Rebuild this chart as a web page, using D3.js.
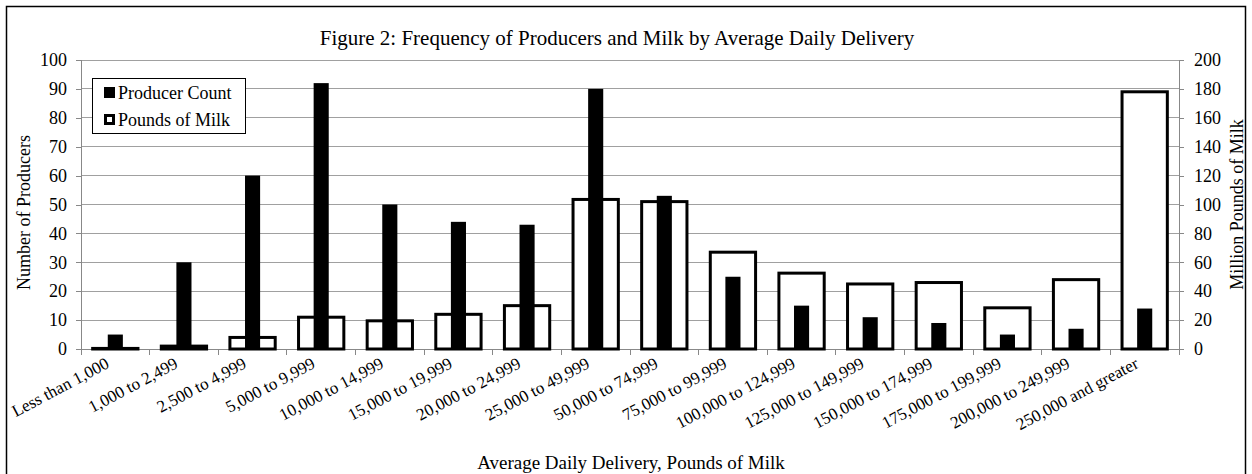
<!DOCTYPE html>
<html lang="en">

<head>
    <meta charset="UTF-8">
    <title>Frequency of Producers and Milk by Average Daily Delivery</title>
    <style>
        body {
            margin: 0;
            background: white;
        }

        text {
            font-family: "Liberation Serif", "Times New Roman", serif;
            fill: black;
        }

        .grid line {
            stroke: #a0a0a0;
            shape-rendering: crispEdges;
        }

        .y_axis path,
        .y_axis line,
        .x_axis path,
        .x_axis line {
            stroke: #888;
            shape-rendering: crispEdges;
        }

        .y_axis text {
            font-size: 18px;
        }
    </style>
</head>

<body>
    <script src="https://cdn.jsdelivr.net/npm/d3@7"></script>
    <script>
        const categories = [
            'Less than 1,000', '1,000 to 2,499', '2,500 to 4,999', '5,000 to 9,999',
            '10,000 to 14,999', '15,000 to 19,999', '20,000 to 24,999', '25,000 to 49,999',
            '50,000 to 74,999', '75,000 to 99,999', '100,000 to 124,999', '125,000 to 149,999',
            '150,000 to 174,999', '175,000 to 199,999', '200,000 to 249,999', '250,000 and greater'
        ];
        // left axis
        const producer_count = [5, 30, 60, 92, 50, 44, 43, 90, 53, 25, 15, 11, 9, 5, 7, 14];
        // right axis, million pounds
        const milk_pounds = [0.4, 2, 8, 22, 19.5, 24, 30, 103.5, 102, 67, 52.5, 45, 46, 28.5, 48, 178];

        const left_ticks = [0, 10, 20, 30, 40, 50, 60, 70, 80, 90, 100];
        const right_ticks = [0, 20, 40, 60, 80, 100, 120, 140, 160, 180, 200];

        const svg_w = 1252;
        const svg_h = 474;
        const plot_left = 81;
        const plot_right = 1179;
        const plot_top = 60;
        const plot_bottom = 349;

        const svg = d3.select('body')
            .append('svg')
            .attr('width', svg_w)
            .attr('height', svg_h);

        // outer frame
        svg.append('rect')
            .attr('x', 6.5)
            .attr('y', 6.5)
            .attr('width', 1239)
            .attr('height', 480)
            .attr('fill', 'white')
            .attr('stroke', 'black')
            .attr('stroke-width', 1.5);

        const x_scale = d3.scaleBand(categories, [plot_left, plot_right]);
        const y_left = d3.scaleLinear([0, 100], [plot_bottom, plot_top]);
        const y_right = d3.scaleLinear([0, 200], [plot_bottom, plot_top]);

        // gridlines
        svg.append('g')
            .attr('class', 'grid')
            .selectAll('line')
            .data(left_ticks)
            .enter()
            .append('line')
            .attr('x1', plot_left)
            .attr('x2', plot_right)
            .attr('y1', d => y_left(d))
            .attr('y2', d => y_left(d));

        const y_axis_left = d3.axisLeft(y_left).tickValues(left_ticks).tickSize(5).tickPadding(9);
        const y_axis_right = d3.axisRight(y_right).tickValues(right_ticks).tickSize(5).tickPadding(10);

        svg.append('g').call(y_axis_left)
            .attr('class', 'y_axis')
            .attr('font-family', null)
            .attr('transform', `translate(${plot_left}, 0)`);

        svg.append('g').call(y_axis_right)
            .attr('class', 'y_axis')
            .attr('font-family', null)
            .attr('transform', `translate(${plot_right}, 0)`);

        svg.selectAll('.y_axis path').attr('d', `M0,${plot_top}V${plot_bottom}`);

        // x axis: ticks on category boundaries
        const bounds = categories.map(c => x_scale(c)).concat([plot_right]);
        const x_axis = svg.append('g').attr('class', 'x_axis');
        x_axis.append('line')
            .attr('x1', plot_left - 5)
            .attr('x2', plot_right + 5)
            .attr('y1', plot_bottom)
            .attr('y2', plot_bottom);
        x_axis.selectAll('line.tick')
            .data(bounds)
            .enter()
            .append('line')
            .attr('class', 'tick')
            .attr('x1', d => d)
            .attr('x2', d => d)
            .attr('y1', plot_bottom)
            .attr('y2', plot_bottom + 6);

        x_axis.selectAll('text')
            .data(categories)
            .enter()
            .append('text')
            .attr('text-anchor', 'end')
            .attr('font-size', 17)
            .attr('transform', d => `translate(${x_scale(d) + x_scale.bandwidth() / 2 - 5}, ${plot_bottom + 18}) rotate(-28)`)
            .text(d => d);

        // milk bars (open)
        const milk_w = x_scale.bandwidth() * 0.66;
        svg.append('g')
            .selectAll('rect')
            .data(milk_pounds)
            .enter()
            .append('rect')
            .attr('x', (d, i) => x_scale(categories[i]) + (x_scale.bandwidth() - milk_w) / 2)
            .attr('y', d => y_right(d))
            .attr('width', milk_w)
            .attr('height', d => plot_bottom - y_right(d))
            .attr('fill', 'white')
            .attr('stroke', 'black')
            .attr('stroke-width', 3);

        // producer bars (solid)
        const prod_w = x_scale.bandwidth() * 0.22;
        svg.append('g')
            .selectAll('rect')
            .data(producer_count)
            .enter()
            .append('rect')
            .attr('x', (d, i) => x_scale(categories[i]) + (x_scale.bandwidth() - prod_w) / 2)
            .attr('y', d => y_left(d))
            .attr('width', prod_w)
            .attr('height', d => plot_bottom - y_left(d))
            .attr('fill', 'black');

        // titles
        svg.append('text')
            .attr('x', 617)
            .attr('y', 45)
            .attr('text-anchor', 'middle')
            .attr('font-size', 21)
            .text('Figure 2: Frequency of Producers and Milk by Average Daily Delivery');

        svg.append('text')
            .attr('x', 631)
            .attr('y', 469)
            .attr('text-anchor', 'middle')
            .attr('font-size', 19)
            .text('Average Daily Delivery, Pounds of Milk');

        svg.append('text')
            .attr('transform', `translate(30, ${(plot_top + plot_bottom) / 2 + 8}) rotate(-90)`)
            .attr('text-anchor', 'middle')
            .attr('font-size', 18)
            .text('Number of Producers');

        svg.append('text')
            .attr('transform', `translate(1243, ${(plot_top + plot_bottom) / 2}) rotate(-90)`)
            .attr('text-anchor', 'middle')
            .attr('font-size', 18)
            .text('Million Pounds of Milk');

        // legend
        const legend = svg.append('g').attr('transform', 'translate(92, 78)');
        legend.append('rect')
            .attr('x', 0.5)
            .attr('y', 0.5)
            .attr('width', 153)
            .attr('height', 55)
            .attr('fill', 'white')
            .attr('stroke', 'black')
            .attr('stroke-width', 1);

        legend.append('rect')
            .attr('x', 12)
            .attr('y', 9)
            .attr('width', 11)
            .attr('height', 11)
            .attr('fill', 'black');
        legend.append('rect')
            .attr('x', 13.5)
            .attr('y', 37.5)
            .attr('width', 8)
            .attr('height', 8)
            .attr('fill', 'white')
            .attr('stroke', 'black')
            .attr('stroke-width', 3);

        legend.append('text')
            .attr('x', 26)
            .attr('y', 21)
            .attr('font-size', 18)
            .text('Producer Count');
        legend.append('text')
            .attr('x', 26)
            .attr('y', 48)
            .attr('font-size', 18)
            .text('Pounds of Milk');
    </script>
</body>

</html>
